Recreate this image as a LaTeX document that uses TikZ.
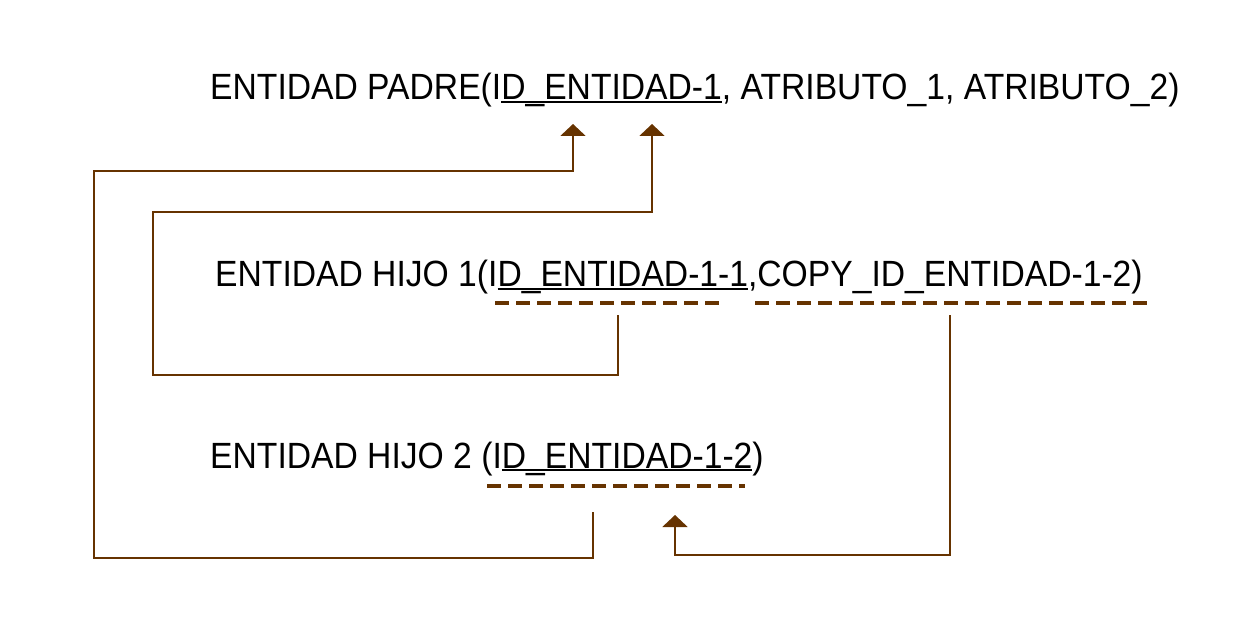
\documentclass[tikz,border=0pt]{standalone}
\usepackage{fontspec}
\setmainfont{Liberation Sans}[FakeStretch=0.922]
\usetikzlibrary{arrows.meta}
\definecolor{fkbrown}{RGB}{102,51,0}
\newcommand{\subrayado}[1]{\setbox0\hbox{#1}\rlap{\rule[-3pt]{\wd0}{1.8pt}}\box0}
\tikzset{
  tabla/.style={anchor=base west,inner sep=0pt,font=\fontsize{36.5}{44}\selectfont},
  clave/.style={draw=fkbrown,line width=4pt,dash pattern=on 14pt off 7pt},
  fkline/.style={draw=fkbrown,line width=2pt},
  fkarrow/.style={fkline,-{Triangle[length=12pt,width=25pt]}}
}

\begin{document}
\begin{tikzpicture}[x=1pt,y=-1pt]
  \useasboundingbox (0,0) rectangle (1238,617);
  % Tables
  \node[tabla] (padre) at (210,100) {ENTIDAD PADRE(I\subrayado{D\_ENTIDAD-1}, ATRIBUTO\_1, ATRIBUTO\_2)};
  \node[tabla] (hijo1) at (215,287) {ENTIDAD HIJO 1(I\subrayado{D\_ENTIDAD-1-1},COPY\_ID\_ENTIDAD-1-2)};
  \node[tabla] (hijo2) at (210,468) {ENTIDAD HIJO 2 (I\subrayado{D\_ENTIDAD-1-2})};

  % Key end points
  \coordinate (pk1) at (573,124);
  \coordinate (pk2) at (652,124);
  \coordinate (h1ka) at (495,303);
  \coordinate (h1kb) at (725,303);
  \coordinate (h1ca) at (755,303);
  \coordinate (h1cb) at (1147,303);
  \coordinate (h1src) at (618,315);
  \coordinate (h1copy) at (950,315);
  \coordinate (h2ka) at (487,486);
  \coordinate (h2kb) at (745,486);
  \coordinate (h2src) at (593,512);
  \coordinate (h2tgt) at (675,515);

  % Dashed keys
  \draw[clave] (h1ka) -- (h1kb);
  \draw[clave] (h1ca) -- (h1cb);
  \draw[clave] (h2ka) -- (h2kb);

  % Foreign keys
  \draw[fkarrow] (h2src) |- (94,558) |- (573,171) -- (pk1);
  \draw[fkarrow] (h1src) |- (153,375) |- (652,212) -- (pk2);
  \draw[fkarrow] (h1copy) |- (675,555) -- (h2tgt);
\end{tikzpicture}
\end{document}
